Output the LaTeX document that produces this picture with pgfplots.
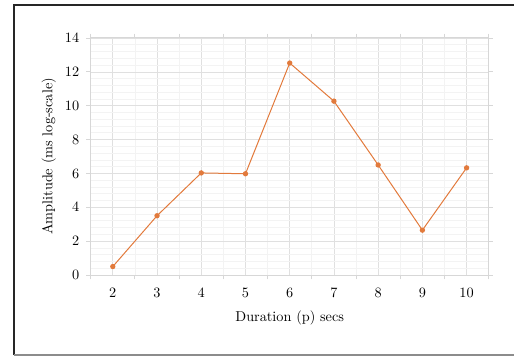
\documentclass[border=0pt]{standalone}
\usepackage{pgfplots}
\pgfplotsset{compat=1.18}
\definecolor{lineor}{RGB}{226,122,60}
\definecolor{majgrid}{RGB}{224,224,224}
\definecolor{mingrid}{RGB}{243,243,243}
\definecolor{axgray}{RGB}{215,215,215}
\begin{document}
\begin{tikzpicture}[x=0.7pt,y=0.7pt]
\path[use as bounding box] (0,0) rectangle (514,356);
\draw[black!85,line width=1.2pt] (14,1) -- (14,351) -- (514,351);
\draw[black!45,line width=0.9pt] (14,1) -- (514,1);
\begin{axis}[
  at={(90.7*0.7pt,81*0.7pt)}, anchor=south west,
  scale only axis, width=278.6pt, height=165.9pt,
  xmin=1.5, xmax=10.5, ymin=0, ymax=14,
  xtick={2,...,10},
  minor xtick={1.5,2.5,...,10.5},
  ytick={0,2,...,14},
  minor y tick num=4,
  grid=both,
  major tick length=3pt, minor tick length=3pt,
  major x tick style={draw=none},
  minor y tick style={draw=none},
  tick align=outside,
  tick style={color=axgray, line width=0.6pt},
  major grid style={color=majgrid, line width=0.5pt},
  minor grid style={color=mingrid, line width=0.5pt},
  axis line style={color=axgray, line width=0.7pt},
  xlabel={Duration (p) secs},
  ylabel={Amplitude (ms log-scale)},
  xlabel style={yshift=-2.5pt},
  ylabel style={yshift=-0.5pt},
  tick label style={font=\fontsize{10}{12}\selectfont},
  xticklabel style={yshift=-3pt},
  yticklabel style={xshift=-1.5pt},
]
\addplot[color=lineor, line width=0.7pt, mark=*, mark size=1.5pt, mark options={fill=lineor, draw=lineor}]
coordinates {(2,0.5) (3,3.5) (4,6.03) (5,5.98) (6,12.52) (7,10.27) (8,6.5) (9,2.65) (10,6.33)};
\end{axis}
\end{tikzpicture}
\end{document}
